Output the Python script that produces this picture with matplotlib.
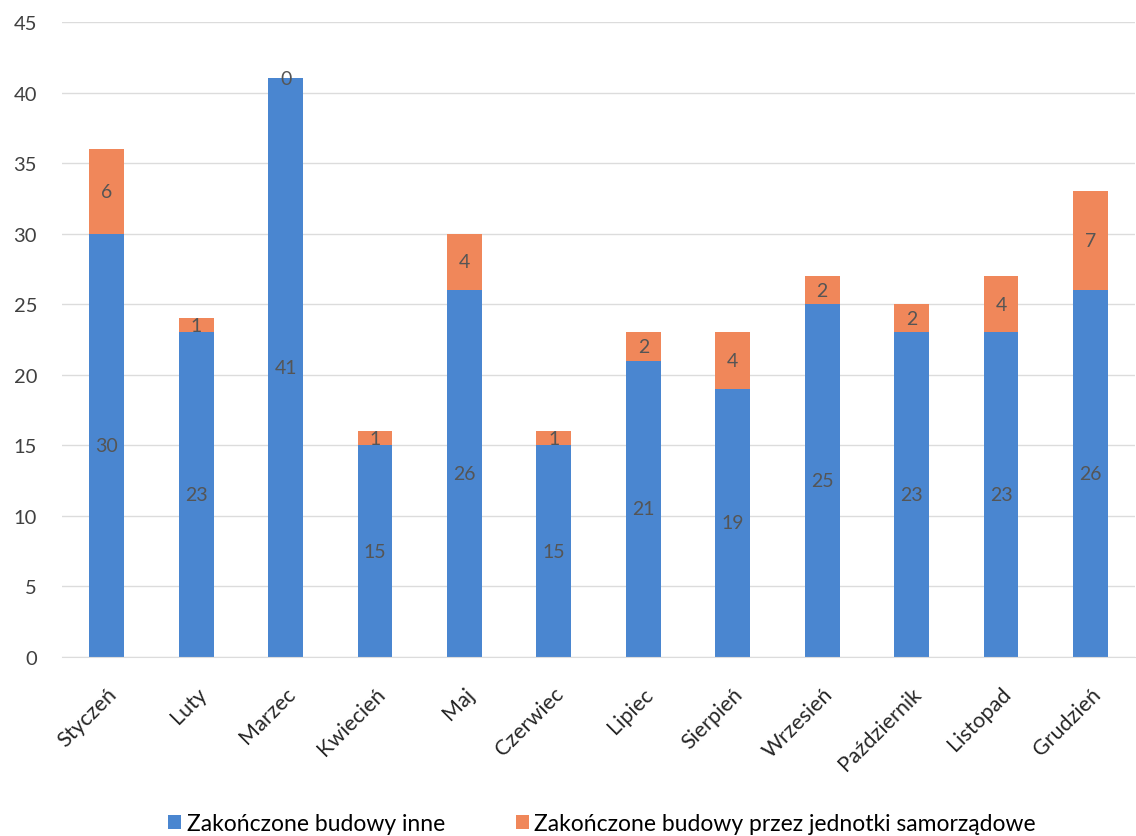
import matplotlib
matplotlib.use("Agg")
import matplotlib.pyplot as plt
import numpy as np

months = ["Styczeń", "Luty", "Marzec", "Kwiecień", "Maj", "Czerwiec", "Lipiec",
          "Sierpień", "Wrzesień", "Październik", "Listopad", "Grudzień"]
inne = [30, 23, 41, 15, 26, 15, 21, 19, 25, 23, 23, 26]
samorzad = [6, 1, 0, 1, 4, 1, 2, 4, 2, 2, 4, 7]
series_names = ["Zakończone budowy inne", "Zakończone budowy przez jednotki samorządowe"]
yticks = [0, 5, 10, 15, 20, 25, 30, 35, 40, 45]

plt.rcParams['font.family'] = ['Lato', 'DejaVu Sans']
blue = "#4a86d0"
orange = "#f0875a"
label_col = "#555555"

fig = plt.figure(figsize=(11.36, 8.37), dpi=100)
ax = fig.add_axes([0.0546, 0.2139, 0.9446, 0.7586])

x = np.arange(len(months))
w = 0.39
b1 = ax.bar(x, inne, w, color=blue, label=series_names[0], zorder=2)
b2 = ax.bar(x, samorzad, w, bottom=inne, color=orange, label=series_names[1], zorder=2)

for xi, v in zip(x, inne):
    ax.text(xi, v / 2, str(v), ha='center', va='center', fontsize=14, color=label_col, zorder=3)
for xi, v, b in zip(x, samorzad, inne):
    ax.text(xi, b + v / 2, str(v), ha='center', va='center', fontsize=14, color=label_col, zorder=3)

ax.set_xlim(-0.5, len(months) - 0.5)
ax.set_ylim(0, 45)
ax.set_yticks(yticks)
ax.set_yticklabels([str(t) for t in yticks], fontsize=14.5, color="#404040")
ax.set_xticks(x)
ax.set_xticklabels(months, rotation=45, ha='right', va='top', rotation_mode='anchor',
                   fontsize=15.5, color="#262626")
ax.tick_params(axis='both', length=0)
ax.tick_params(axis='y', pad=18)
ax.tick_params(axis='x', pad=19)
ax.yaxis.grid(True, color="#dcdcdc", linewidth=1, zorder=0)
ax.set_axisbelow(True)
for s in ['top', 'right', 'left']:
    ax.spines[s].set_visible(False)
ax.spines['bottom'].set_color("#dcdcdc")

fig.legend(handles=[b1, b2], labels=series_names, loc='center', bbox_to_anchor=(0.53, 12 / 837),
           ncol=2, frameon=False, fontsize=16.5, handlelength=0.55, handleheight=0.55,
           handletextpad=0.25, columnspacing=3.1, borderpad=0, borderaxespad=0)

fig.savefig("out.png", dpi=100)
